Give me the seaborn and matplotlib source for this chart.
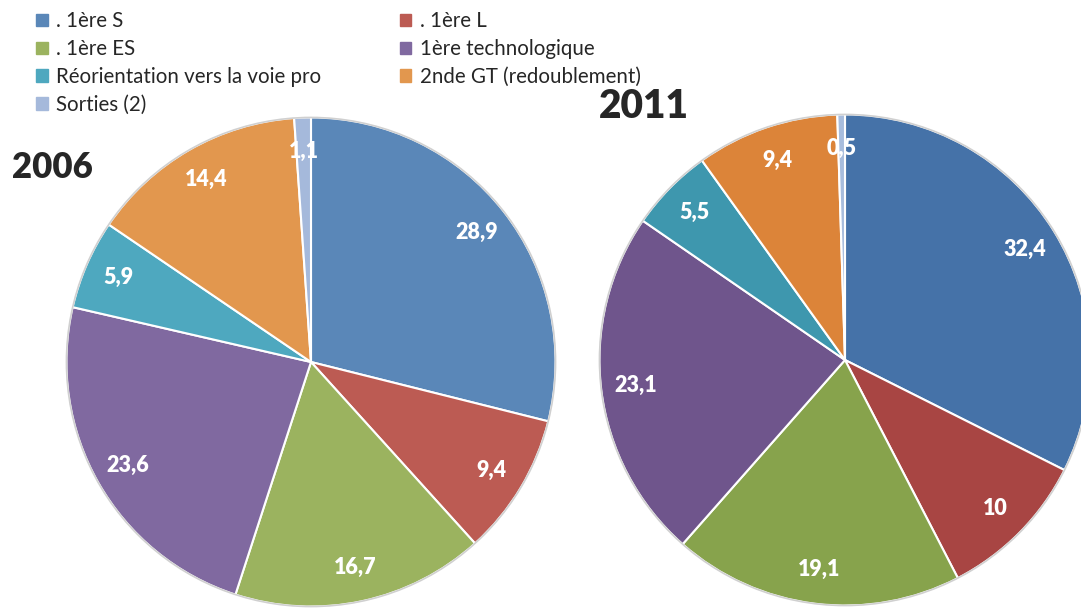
import matplotlib
matplotlib.use("Agg")
import matplotlib.pyplot as plt
import matplotlib.patches as mpatches
import seaborn as sns

# data
categories = [". 1ère S", ". 1ère L", ". 1ère ES", "1ère technologique",
              "Réorientation vers la voie pro", "2nde GT (redoublement)", "Sorties (2)"]
values_2006 = [28.9, 9.4, 16.7, 23.6, 5.9, 14.4, 1.1]
values_2011 = [32.4, 10, 19.1, 23.1, 5.5, 9.4, 0.5]

colors_2006 = ["#5A87B8", "#BC5B53", "#9BB35F", "#8069A0", "#4EA8BF", "#E2974E", "#A5B9DB"]
colors_2011 = ["#4572A8", "#A84543", "#87A34C", "#6F558C", "#3E97AE", "#DC8439", "#A8BDDD"]

sns.set_theme(style="white")
plt.rcParams["font.family"] = ["Lato", "DejaVu Sans"]

W, H = 1081, 610
fig = plt.figure(figsize=(W / 100, H / 100), dpi=100)


def fmt(v):
    s = f"{v:g}"
    return s.replace(".", ",")


def draw_pie(cx, cy, r, values, colors):
    # cx, cy in pixels from top-left
    ax = fig.add_axes([(cx - r) / W, (H - cy - r) / H, 2 * r / W, 2 * r / H])
    wedges, texts = ax.pie(values, colors=colors, startangle=90, counterclock=False,
                           labels=[fmt(v) for v in values], labeldistance=0.86,
                           wedgeprops=dict(edgecolor="white", linewidth=1.5))
    for t in texts:
        t.set_ha("center")
        t.set_va("center")
        t.set_color("white")
        t.set_fontweight("heavy")
        t.set_fontsize(15.5)
    ax.add_patch(mpatches.Circle((0, 0), 1.0, fill=False, edgecolor="#d0d0d0", linewidth=1.2))
    ax.set_xlim(-1.01, 1.01)
    ax.set_ylim(-1.01, 1.01)
    ax.set_aspect("equal")
    ax.axis("off")
    return wedges


wedges = draw_pie(311, 362, 247, values_2006, colors_2006)
draw_pie(845, 360, 248, values_2011, colors_2011)

fig.text(12 / W, 1 - 168 / H, "2006", fontsize=25, fontweight="heavy", va="center", ha="left")
fig.text(599 / W, 1 - 107 / H, "2011", fontsize=28, fontweight="heavy", va="center", ha="left")

order = [0, 2, 4, 6, 1, 3, 5]
handles = [mpatches.Patch(color=colors_2006[i], label=categories[i]) for i in order]
fig.legend(handles=handles, loc="upper left", bbox_to_anchor=(28 / W, 1 - 3 / H),
           ncol=2, frameon=False, fontsize=14.8, handlelength=0.55, handleheight=0.55,
           handletextpad=0.4, labelspacing=0.38, columnspacing=3.85, borderaxespad=0)

fig.savefig("out.png", dpi=100)
